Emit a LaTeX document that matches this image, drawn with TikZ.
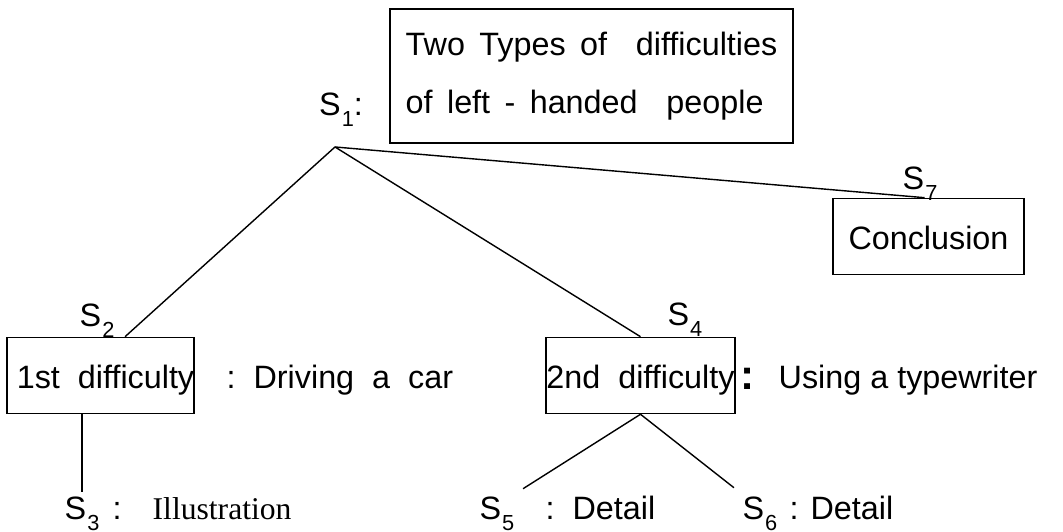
\documentclass[tikz,border=0pt]{standalone}
\usepackage{fontspec}
\setmainfont{Liberation Sans}
\newfontfamily\serifface{Liberation Serif}
\usetikzlibrary{calc}
\newcommand\Sx[1]{S\kern0.3pt\raisebox{-0.6ex}{\fontsize{6.2pt}{7pt}\selectfont#1}}
\newcommand\widesp{\spaceskip=4.1pt plus 1pt\relax}
\begin{document}
\begin{tikzpicture}[x=0.1mm,y=-0.1mm,
  txt/.style={inner sep=0pt, anchor=base, font=\fontsize{9.2pt}{11pt}\selectfont},
  txtw/.style={txt, anchor=base west},
  boxnode/.style={draw, line width=0.45pt, inner sep=0pt, anchor=base,
    text height=5.15mm, text depth=2.45mm,
    font=\fontsize{9.2pt}{11pt}\selectfont},
  conn/.style={line width=0.4pt}]
\useasboundingbox (0,0) rectangle (1063,532);

% root
\node[draw, line width=0.45pt, inner sep=0pt, minimum width=40.3mm, minimum height=13.4mm, align=left,
  font=\fontsize{9.2pt}{16.5pt}\selectfont\widesp] (top) at (591.5,76)
  {Two Types of\ \ difficulties\\of left - handed\ \ people};
\node[txt] (s1) at (341,116) {\Sx{1}:};
\coordinate (apex) at (335,147);

% first difficulty
\node[txt] (s2) at (97,327) {\Sx{2}};
\node[boxnode, minimum width=18.5mm] (b2) at (100.5,389) {\hspace*{1mm}1st\ \ difficulty};
\node[txtw] (drv) at (226,389) {:\ \ Driving\ \ a\ \ car};

% second difficulty
\node[txt] (s4) at (685,326) {\Sx{4}};
\node[boxnode, minimum width=18.9mm] (b4) at (640.5,389) {2nd\ \ difficulty};
\node[txt, font=\fontsize{12pt}{13pt}\selectfont\bfseries] (bc) at (748,390) {:};
\node[txtw] (typ) at (778,389) {Using a typewriter};

% conclusion
\node[txt] (s7) at (920,190) {\Sx{7}};
\node[boxnode, minimum width=19.1mm] (b7) at (928.5,250) {Conclusion};

% bottom row
\node[txt] (s3) at (82,520) {\Sx{3}};
\node[txt] (c3) at (117,520) {:};
\node[txtw, font=\fontsize{9pt}{11pt}\serifface] (ill) at (152,520) {Illustration};
\node[txt] (s5) at (497,520) {\Sx{5}};
\node[txtw] (d5) at (545,520) {:\ \ Detail};
\node[txt] (s6) at (760,520) {\Sx{6}};
\node[txtw] (d6) at (789,520) {: Detail};

% connectors
\draw[conn] (apex) -- ($(b2.north west)!0.63!(b2.north east)$);
\draw[conn] (apex) -- (b4.north);
\draw[conn] (apex) -- ($(b7.north west)!0.48!(b7.north east)$);
\draw[conn] (s3.north |- b2.south) -- ($(s3.north)+(0,-5)$);
\draw[conn] (b4.south) -- ($(s5.north east)+(8,-8)$);
\draw[conn] (b4.south) -- ($(s6.north west)+(-8,-9)$);
\end{tikzpicture}
\end{document}
